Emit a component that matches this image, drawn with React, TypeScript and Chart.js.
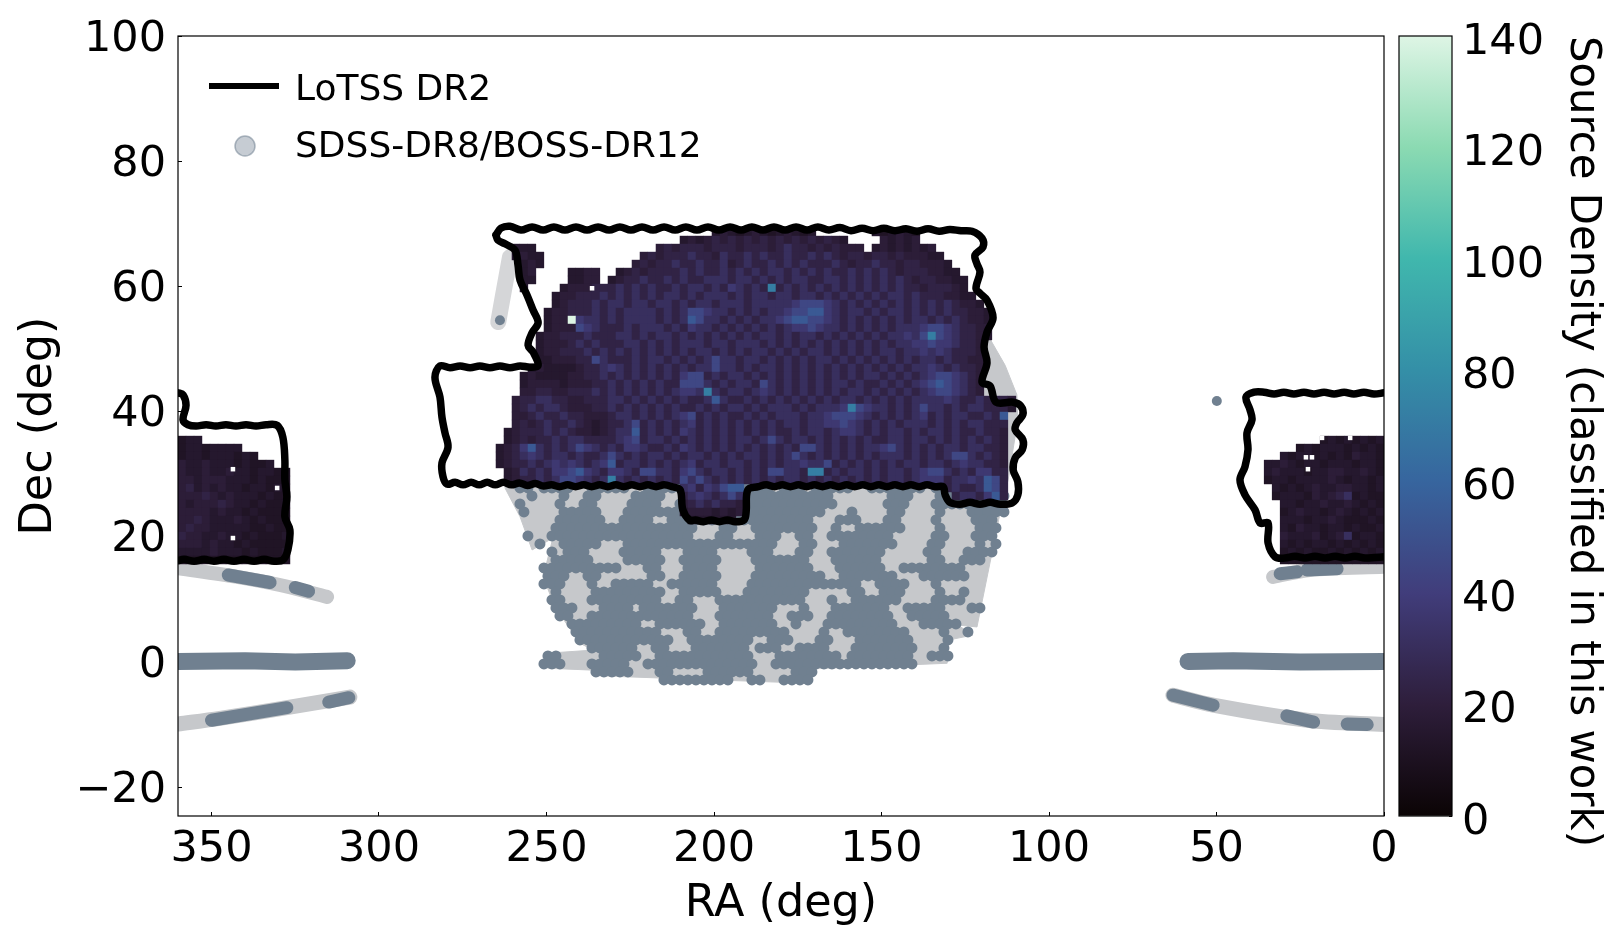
import React, { useEffect, useRef } from "react";
import { Chart, registerables } from "chart.js";
Chart.register(...registerables);

const FONT = '"DejaVu Sans", sans-serif';
const SLATE = "#708090";
const LIGHT = "#c6c8cb";

const xTickValues = [0, 50, 100, 150, 200, 250, 300, 350];
const yTickValues = [-20, 0, 20, 40, 60, 80, 100];
const barTickValues = [0, 20, 40, 60, 80, 100, 120, 140];
const makoStops = ["#0b0405", "#2e1e3b", "#413d7b", "#37659e", "#348fa7", "#40b7ad", "#8bdab2", "#def5e5"];
const levelDensity: Record<string, number> = { "0": 8, "1": 12, "2": 15, "3": 19, "4": 23, "5": 31, "6": 37, "7": 45, "8": 54, "9": 72, X: 140 };

// grid of the density map: level digits, one row per Dec step, one char per RA step
const cellRA = 2.388;
const cellDec = 1.278;
const mainRA0 = 263.9;
const mainDec0 = 68.69;
const densityMain = [
  ".......... .......... .......232 1232123212 .......212 321.......",
  ".......... .......... ...2323434 3434343434 3432....32 323.......",
  "..222..... .......... 3434443444 3444345443 434333.232 32323.....",
  "..2322.... ........34 3444544354 4545445445 4543443443 433322....",
  "...232.... .......343 4454454453 4544545454 4454344544 3443332...",
  "...23....2 233..23434 4445454454 5454554545 4544545454 34443322..",
  "...22....2 233.234454 4545445554 5545454554 4554545454 543443322.",
  "...2....23 3344454545 4454554546 5454945454 5454545454 544344432.",
  ".......233 4445454545 4554545554 5455455455 4545454545 5454443322",
  ".......234 4454554554 5545455455 5455555677 7654545454 5454545433 2",
  "......2334 4454545555 4545776554 5454556778 8654554545 5454545443 32",
  "......233X 6554545555 4545875545 4545567887 7654545454 5455454543 32",
  "......2333 7654445455 5454655454 5454545667 6554545454 5556776544 33",
  ".....23344 4544455454 5545454545 4545545455 4545454545 5657976544 32",
  ".....23334 5454445545 4545554554 5554545454 5454545454 5566766544 3",
  ".....23344 4545454545 4545455454 5455454545 5454545455 4556565444 3",
  ".....22333 4475444545 5454545755 4554545454 5545454545 4545545443 3",
  "....232222 3445654545 4545455755 4545545454 5454545454 5455654544 3",
  "...2322223 3445454545 4546774545 5454545454 5454545545 4545677654 3",
  "...2333323 3344545454 5447775454 5547545454 5455454454 5456787654 3",
  "...3344334 4454545454 5456659545 5456545454 5454554545 4545677654 3",
  "..34455443 3444554545 4545445854 4545454545 4545545454 5455556544 54443",
  "..34545543 3344545454 5454454545 5454555454 5556976554 5457554545 54442",
  "..33454454 4333455454 5456745454 4545455545 5677765454 5456454554 4548",
  "..34345445 4323445745 4545645454 5454545545 5667654545 4555454545 5444",
  ".234445454 3323455845 4546545454 5454544545 5456654545 5454554544 5443",
  ".234344545 5444456745 5454545454 5545754554 5454545445 5455454545 4543",
  "2346854545 7654546654 4546545454 5454545477 5454545567 5454545545 5443",
  "2345654554 5445754545 5454554545 4554545754 5454545455 5454545775 4543",
  "2344545656 5456845545 4545645545 5454545565 5745454545 4554554565 5443",
  ".235454667 8654665477 5546754554 5454775549 9454554545 5456775454 6644",
  ".234454577 6545954545 4547575454 5454545545 4545454545 5456664556 5874",
  ".......... .......... ...5646578 8......... .......... ......4544 5874",
  ".......... .......... ...4565457 5......... .......... .......455 4684",
  ".......... .......... ...3454544 3",
  ".......... .......... ...2333232 3",
  ".......... .......... ....222222",
];

const leftRA0 = 358.8;
const rightRA0 = 34.6;
const edgeDec0 = 35.46;
const densityLeft = [
  "122",
  "12212222",
  "1221222121",
  "322322212112",
  "32232232212211",
  "33233322212111",
  "34232322122121",
  "33343232221211",
  "32333432212112",
  "33332322121111",
  "33432223212111",
  "34332222211211",
  "43322322121112",
  "33323221211111",
  "22223222121112",
  "11111111111111",
];
const densityRight = [
  ".......1212121 2",
  "....1212221212 1",
  "..212212121322 1",
  "2232122122212 21",
  "2322212233223 21",
  "1221222232122 12",
  ".212123223322 12",
  ".122213234512 11",
  "..22122322321 21",
  "..12322123212 12",
  "..22212232111 21",
  "..21322122121 12",
  "..32223123512 21",
  "..21212212121 21",
  "..12121121212 12",
  "..11111111111 11",
];

// white gaps inside the density map (RA, Dec)
const emptyCells: [number, number][] = [[236.4, 59.7], [343.6, 30.8], [330.4, 27.8], [343.6, 19.8], [23.3, 32.7], [21.5, 32.7], [22.7, 30.8], [18.5, 35.8], [10.1, 35.8]];

// SDSS footprint (RA, Dec)
const sdssFootprint: [number, number][] = [
  [262.4, 27.8], [257.9, 23.2], [254.3, 17.9], [248.1, 19.8], [251.0, 13.6], [247.5, 8.8], [240.0, 3.0], [236.1, 1.9],
  [249.9, 1.4], [249.6, -1.0], [236.1, -1.3], [234.9, -2.2], [171.3, -3.4], [170.4, -1.1], [130.4, -0.2], [130.1, 3.5],
  [122.7, 4.3], [127.2, 5.9], [121.5, 5.6], [114.6, 23.8], [112.2, 29.1], [109.3, 38.7], [109.6, 42.7], [113.1, 47.4],
  [119.1, 53.0], [126.6, 57.8], [204, 57.8], [257.9, 41.9], [262.4, 27.8],
];
const sdssRA0 = 262.7;
const sdssDec0 = 27.8;
const sdssDense = [
  "..##.####. .#####..## ####.##### ####.###.# ####..#### ###.###### ###",
  "...#...#.. ##....#### ..######## ########## #.......## #...###### ###",
  "..#....#.. ##....#### ..######## ########## ##......## #...###### ###",
  "..#....### ##...##### ##..###### ########## ...#....## ....#...## ###",
  ".......### ###..####. .######### #########. ..###...## ....#....# ##",
  "......#### ########## ####...##. .########. .#..###### ....#....# ##",
  "...#..#### ########## ####...##. ..###..##. .########. ....##...# ##",
  "....#..### ##...##### ########## ####...##. ..#######. ...##....# .#",
  "......#.## #....##### ...####... .###...##. .#######.. ...##...## ##",
  "......#### #....##### ..#####... .#######.. .######... ...##..### .",
  ".....##### #####...## ...####... ..#######. ..######.. ########.. .",
  ".....###.. ##......## ..#####... .######### ..#######. ..######.. .",
  ".....###.. .#..#####. .######... .######### #####..### #...#..... .",
  "......#... .######### ..#####... ########.. ...##..### ....#..#..",
  "......##.. .######### ..##...### ########.. .#..###### ....####..",
  "......###. ..####.### ####...### ####...#.. .#######.. #####...##",
  ".......##. .######### ####...### ####..###. .########. .#####....",
  "........## #######..# #####..### ####..#... #########. ..#####",
  ".........# ########## ...##..### ######.... #..####### #....#..#",
  ".........# ########## #..####### #..###...# #...###### #....#",
  ".......... .######..# #...###### #.###..### #...###### ##...#",
  ".....##... ..#####..# ########## #...###### ##.####### #..###",
  ".....###.. .#####..## ########## ##..###### ########## ##",
  ".......... .#####...# #....##### #.....###",
  ".......... .......... #########. .##..####",
];

// survey stripes (RA, Dec)
const stripeLeftMid: [number, number][] = [[360, 0.1], [340, 0.2], [325, 0], [309.5, 0.2]];
const stripeRightMid: [number, number][] = [[0, 0.1], [25, 0], [45, 0.2], [58.5, 0.1]];
const arcLeftUpper: [number, number][] = [[360, 15.0], [342.4, 13.6], [329.6, 12.3], [315.5, 10.4]];
const arcLeftLower: [number, number][] = [[360, -9.9], [347.5, -9], [327.5, -7.3], [308.7, -5.6]];
const arcRightUpper: [number, number][] = [[33.1, 13.6], [22.1, 14.7], [0, 15.2]];
const arcRightLower: [number, number][] = [[63, -5.3], [51, -6.9], [23, -9.3], [0, -10]];
const arcWedge: [number, number][] = [[260.9, 64.7], [263.0, 58.5], [264.4, 54.3]];
const arcDense: [number, number][][] = [
  [[345, 13.9], [332.5, 12.7]],
  [[325, 11.9], [321, 11.3]],
  [[350, -9.3], [327.5, -7.3]],
  [[315, -6.4], [309, -5.7]],
  [[63, -5.3], [51, -6.9]],
  [[29, -8.6], [21, -9.6]],
  [[11, -9.9], [5, -10]],
  [[31, 14.1], [26, 14.4]],
  [[23, 14.7], [14, 14.9]],
];
const sdssSmall: [number, number][] = [[263.9, 54.6], [49.9, 41.7]];

// LoTSS DR2 footprint outline (RA, Dec)
const lotssMain: [number, number][] = [
  [265.1, 68.2], [263.6, 69.3], [260.9, 69.6], [257.6, 69.0], [254.3, 69.5], [251.0, 69.0], [247.8, 69.5], [244.5, 69.0], [241.2, 69.5], [237.9, 69.0], [234.6, 69.5], [231.3, 69.0], [228.1, 69.5], [224.8, 69.0], [221.5, 69.5], [218.2, 69.0], [214.9, 69.5], [211.6, 69.0], [208.4, 69.5], [205.1, 69.0], [201.8, 69.5], [198.5, 69.0], [195.2, 69.5], [191.9, 69.0], [188.7, 69.5], [185.4, 69.0], [182.1, 69.5], [178.8, 69.0], [175.5, 69.5], [172.2, 69.0], [169.0, 69.5], [165.7, 69.0], [162.4, 69.4], [159.1, 68.9], [155.8, 69.3], [152.5, 68.9], [149.3, 69.3], [146, 68.9], [142.7, 69.2], [139.4, 68.8], [136.1, 69.2], [132.8, 68.8], [129.6, 69.1], [126.3, 68.9],
  [123, 68.8], [120, 67.7], [119.7, 66.3], [122.1, 65], [121.5, 63.6], [120.6, 62.3], [121.8, 59.7], [120.6, 58.9], [118.5, 57.8], [116.7, 55], [118.5, 52.7], [119.4, 50.3], [118.5, 47.8], [120, 44.7], [117.6, 44.1], [115.8, 41.5], [110.7, 41.5], [108.4, 40.9], [107.8, 39.5], [109.6, 38.2], [110.1, 37.1], [107.8, 35.5], [108, 33.9], [110.1, 32.6], [110.7, 30.7], [109.3, 28.8], [109.3, 26.7], [111, 25.4],
  [114.6, 25.2], [117.6, 25.5], [120.6, 25.2], [123.6, 25.5], [126.6, 25.2], [129.6, 25.5], [131, 26.7], [131.6, 28],
  [134, 28.0], [136.4, 28.3], [138.8, 28.0], [141.2, 28.3], [143.6, 28.0], [146, 28.3], [148.4, 28.0], [150.8, 28.3], [153.2, 28.0], [155.6, 28.3], [158, 28.0], [160.4, 28.3], [162.8, 28.0], [165.2, 28.3], [167.6, 28.0], [170, 28.3], [172.4, 28.0], [174.8, 28.3], [177.2, 28.0], [179.6, 28.3], [182, 28.0], [184.4, 28.3], [186.8, 28.0],
  [189.9, 27.5], [190.4, 24], [191, 22.7], [193.7, 22.4], [196, 22.7], [198.4, 22.4], [200.8, 22.7], [203.2, 22.4], [205.6, 22.7], [207.2, 22.6], [209.3, 24.3], [210.1, 27.5],
  [212.5, 28.0], [214.9, 28.3], [217.3, 28.0], [219.7, 28.3], [222.1, 28.0], [224.5, 28.3], [226.9, 28.0], [229.3, 28.3], [231.7, 28.0], [234.1, 28.3], [236.5, 28.0], [238.9, 28.3], [241.3, 28.0], [243.7, 28.3], [246.1, 28.0], [248.5, 28.3], [250.9, 28.1], [253.3, 28.5], [255.7, 28.2], [258.1, 28.6], [260.5, 28.3], [262.9, 28.7], [265.3, 28.3], [267.7, 28.7], [270.1, 28.3], [272.5, 28.7], [274.9, 28.3], [277.3, 28.7], [279.7, 28.4],
  [280.9, 29.6], [281.2, 31.8], [279.4, 34.3], [280.3, 36.6], [281.2, 39.1], [281.8, 42.3], [283.3, 45.5], [281.8, 47.3],
  [278.8, 47.0], [275.8, 47.3], [272.8, 47.0], [269.9, 47.3], [266.9, 47.0], [263.9, 47.3], [260.9, 47.0], [257.9, 47.3], [254.9, 47.1], [252.5, 47.4],
  [254, 49.5], [255.5, 50.6], [254.3, 52.6], [252.5, 54.2], [254, 56.2], [255.8, 58.6], [257.9, 61], [258.5, 63.4], [259.4, 65.8], [262.4, 66.8], [264.5, 67.4], [265.1, 68.2],
];
const lotssLeft: [number, number][] = [
  [360, 43], [358.5, 42.7], [357.6, 41], [358.5, 38.7], [357, 37.9], [354.6, 37.7], [351.6, 37.9], [348.7, 37.7], [345.7, 37.9], [342.7, 37.7], [339.7, 37.9], [336.7, 37.7], [333.7, 37.9], [330.4, 37.8], [328.7, 35.9], [328.1, 32.3], [328.1, 29.1], [327.5, 26.4], [328.1, 23.2], [326.6, 21.1], [327.2, 17.9], [328.7, 16.3], [331.3, 16.1], [334.3, 16.4], [337.3, 16.1], [340.3, 16.4], [343.3, 16.1], [346.3, 16.4], [349.3, 16.1], [352.2, 16.4], [355.2, 16.1], [358.2, 16.4], [360, 16.2],
];
const lotssRight: [number, number][] = [
  [0, 43], [3, 42.8], [6, 43.1], [9, 42.8], [11.9, 43.1], [14.9, 42.8], [17.9, 43.1], [20.9, 42.8], [23.9, 43.1], [26.9, 42.8], [29.9, 43.1], [32.8, 42.8], [35.8, 43.1], [38.8, 43.1], [41.2, 42.3], [40, 40.3], [39.4, 38.7], [40.9, 36.6], [40.6, 33.9], [41.5, 31.2], [43, 29.1], [41.5, 26.7], [38.5, 24.3], [37, 22.2], [34.6, 22.2], [34.6, 19], [32.5, 16.8], [29.6, 16.6], [26.6, 16.9], [23.6, 16.6], [20.6, 16.9], [17.6, 16.6], [14.6, 16.9], [11.6, 16.6], [8.7, 16.9], [5.7, 16.6], [2.7, 16.7], [0, 16.8],
];

const legendLabels = ["LoTSS DR2", "SDSS-DR8/BOSS-DR12"];
const barTitle = "Source Density (classified in this work)";

function mix(a: string, b: string, t: number) {
  const p = (h: string, i: number) => parseInt(h.slice(i, i + 2), 16);
  const c = [1, 3, 5].map((i) => Math.round(p(a, i) + (p(b, i) - p(a, i)) * t));
  return `rgb(${c[0]},${c[1]},${c[2]})`;
}
function mako(v: number) {
  const f = Math.min(v / 20, 6.999);
  const i = Math.floor(f);
  return mix(makoStops[i], makoStops[i + 1], f - i);
}
const toPts = (a: [number, number][]) => a.map(([x, y]) => ({ x, y }));

function heatDataset(rows: string[], ra0: number, dec0: number) {
  const data: { x: number; y: number }[] = [];
  const colors: string[] = [];
  rows.forEach((row, k) => {
    row.replace(/ /g, "").split("").forEach((ch, j) => {
      if (ch === ".") return;
      data.push({ x: ra0 - j * cellRA, y: dec0 - k * cellDec });
      colors.push(mako(levelDensity[ch]));
    });
  });
  return { data, backgroundColor: colors, pointStyle: "rect", pointRadius: 5.95, pointBorderWidth: 0, pointHoverRadius: 5.95, showLine: false };
}
function maskPoints(rows: string[]) {
  const out: { x: number; y: number }[] = [];
  rows.forEach((row, r) => row.replace(/ /g, "").split("").forEach((ch, c) => {
    if (ch === "#") out.push({ x: sdssRA0 - (c + (r % 2) / 2) * cellRA, y: sdssDec0 - r * cellDec });
  }));
  return out;
}
const thick = (a: [number, number][], color: string, width: number, tension = 0) => ({
  data: toPts(a), showLine: true, borderColor: color, borderWidth: width, pointRadius: 0, tension, borderCapStyle: "round", borderJoinStyle: "round", fill: false,
});

const framePlugin = {
  id: "frame",
  afterDatasetsDraw(chart: any) {
    const { ctx, chartArea: a } = chart;
    ctx.save();
    ctx.strokeStyle = "#000";
    ctx.lineWidth = 1.2;
    ctx.strokeRect(a.left, a.top, a.right - a.left, a.bottom - a.top);
    ctx.restore();
  },
};
const legendPlugin = {
  id: "insideLegend",
  afterDraw(chart: any) {
    const { ctx, chartArea: a } = chart;
    const ox = a.left, oy = a.top;
    ctx.save();
    ctx.strokeStyle = "#000";
    ctx.lineWidth = 6;
    ctx.beginPath();
    ctx.moveTo(ox + 31, oy + 50);
    ctx.lineTo(ox + 101, oy + 50);
    ctx.stroke();
    ctx.beginPath();
    ctx.arc(ox + 67, oy + 110, 10, 0, Math.PI * 2);
    ctx.fillStyle = "rgba(112,128,144,0.4)";
    ctx.strokeStyle = "rgba(112,128,144,0.55)";
    ctx.lineWidth = 1.5;
    ctx.fill();
    ctx.stroke();
    ctx.fillStyle = "#000";
    ctx.font = `36px ${FONT}`;
    ctx.textBaseline = "middle";
    ctx.fillText(legendLabels[0], ox + 117, oy + 55);
    ctx.fillText(legendLabels[1], ox + 117, oy + 112);
    ctx.restore();
  },
};
const barTitlePlugin = {
  id: "barTitle",
  afterDraw(chart: any) {
    const { ctx, chartArea: a } = chart;
    ctx.save();
    ctx.translate(a.right + 130, a.top);
    ctx.rotate(Math.PI / 2);
    ctx.font = `41.8px ${FONT}`;
    ctx.fillStyle = "#000";
    ctx.textAlign = "left";
    ctx.textBaseline = "middle";
    ctx.fillText(barTitle, 0, 0);
    ctx.restore();
  },
};

export default function App() {
  const mainRef = useRef<HTMLCanvasElement>(null);
  const barRef = useRef<HTMLCanvasElement>(null);
  useEffect(() => {
    // listed bottom-most first; Chart.js paints the first dataset last, so the list is reversed below
    const layers: any[] = [
      { data: toPts(sdssFootprint), showLine: true, borderColor: LIGHT, borderWidth: 1, backgroundColor: LIGHT, fill: "shape", pointRadius: 0, tension: 0 },
      thick(arcLeftUpper, LIGHT, 14, 0.3),
      thick(arcLeftLower, LIGHT, 15, 0.3),
      thick(arcRightUpper, LIGHT, 14, 0.3),
      thick(arcRightLower, LIGHT, 15, 0.3),
      thick(arcWedge, "#d5d6d8", 16, 0.2),
      { data: maskPoints(sdssDense), backgroundColor: SLATE, pointRadius: 5.5, pointBorderWidth: 0, showLine: false },
      ...arcDense.map((a) => thick(a, SLATE, 13)),
      thick(stripeLeftMid, SLATE, 17),
      thick(stripeRightMid, SLATE, 17),
      { data: toPts(sdssSmall), backgroundColor: SLATE, pointRadius: 5, pointBorderWidth: 0, showLine: false },
      heatDataset(densityMain, mainRA0, mainDec0),
      heatDataset(densityLeft, leftRA0, edgeDec0),
      heatDataset(densityRight, rightRA0, edgeDec0),
      { data: toPts(emptyCells), backgroundColor: "#fff", pointStyle: "rect", pointRadius: 3.2, pointBorderWidth: 0, showLine: false },
      thick(lotssMain, "#000", 7.5, 0.35),
      thick(lotssLeft, "#000", 7.5, 0.35),
      thick(lotssRight, "#000", 7.5, 0.35),
    ];
    const datasets = layers.reverse();
    const tickFont = { family: FONT, size: 43 };
    const titleFont = { family: FONT, size: 44.5 };
    const noOverhang = (s: any) => { s.paddingTop = 0; s.paddingBottom = 0; s.paddingLeft = 0; s.paddingRight = 0; };
    const main = new Chart(mainRef.current!, {
      type: "scatter",
      data: { datasets },
      plugins: [framePlugin, legendPlugin],
      options: {
        responsive: false,
        animation: false,
        events: [],
        layout: { padding: { left: 0, top: 36, right: 238, bottom: 0 } },
        plugins: { legend: { display: false }, tooltip: { enabled: false } },
        scales: {
          x: {
            type: "linear", reverse: true, min: 0, max: 360,
            afterBuildTicks: (s: any) => { s.ticks = xTickValues.map((value) => ({ value })); },
            afterFit: (s: any) => { s.height = 127; noOverhang(s); },
            grid: { display: true, drawOnChartArea: false, drawTicks: true, tickLength: -4, color: "#000" },
            border: { display: false },
            ticks: { font: tickFont, color: "#000", padding: 12, maxRotation: 0, autoSkip: false },
            title: { display: true, text: "RA (deg)", font: titleFont, color: "#000", padding: { top: 0, bottom: 12 } },
          },
          y: {
            type: "linear", min: -24.6, max: 100,
            afterBuildTicks: (s: any) => { s.ticks = yTickValues.map((value) => ({ value })); },
            afterFit: (s: any) => { s.width = 178; noOverhang(s); },
            grid: { display: true, drawOnChartArea: false, drawTicks: true, tickLength: -4, color: "#000" },
            border: { display: false },
            ticks: { font: tickFont, color: "#000", padding: 16, labelOffset: 3.5, autoSkip: false, callback: (v: any) => (v < 0 ? "\u2212" + Math.abs(v) : String(v)) },
            title: { display: true, text: "Dec (deg)", font: titleFont, color: "#000", padding: { top: 13, bottom: 0 } },
          },
        },
      } as any,
    });
    const bar = new Chart(barRef.current!, {
      type: "bar",
      data: {
        labels: ["density"],
        datasets: [{
          data: [[0, 140]] as any,
          barPercentage: 1, categoryPercentage: 1, borderWidth: 0,
          backgroundColor: (c: any) => {
            const area = c.chart.chartArea;
            if (!area) return "#000";
            const g = c.chart.ctx.createLinearGradient(0, area.bottom, 0, area.top);
            makoStops.forEach((s, i) => g.addColorStop(i / (makoStops.length - 1), s));
            return g;
          },
        }],
      },
      plugins: [framePlugin, barTitlePlugin],
      options: {
        responsive: false,
        animation: false,
        events: [],
        layout: { padding: { left: 1399, top: 36, right: 0, bottom: 127 } },
        plugins: { legend: { display: false }, tooltip: { enabled: false } },
        scales: {
          x: { display: false },
          y: {
            position: "right", min: 0, max: 140,
            afterBuildTicks: (s: any) => { s.ticks = barTickValues.map((value) => ({ value })); },
            afterFit: (s: any) => { s.width = 170; noOverhang(s); },
            grid: { display: true, drawOnChartArea: false, drawTicks: true, tickLength: -3, color: "#000" },
            border: { display: false },
            ticks: { font: tickFont, color: "#000", padding: 13, labelOffset: 6.5, autoSkip: false },
          },
        },
      } as any,
    });
    return () => { main.destroy(); bar.destroy(); };
  }, []);
  const abs: React.CSSProperties = { position: "absolute", left: 0, top: 0 };
  return (
    <div style={{ position: "absolute", left: 0, top: 0, width: 1622, height: 943, background: "#fff", overflow: "hidden" }}>
      <canvas ref={mainRef} width={1622} height={943} style={abs} />
      <canvas ref={barRef} width={1622} height={943} style={abs} />
    </div>
  );
}
